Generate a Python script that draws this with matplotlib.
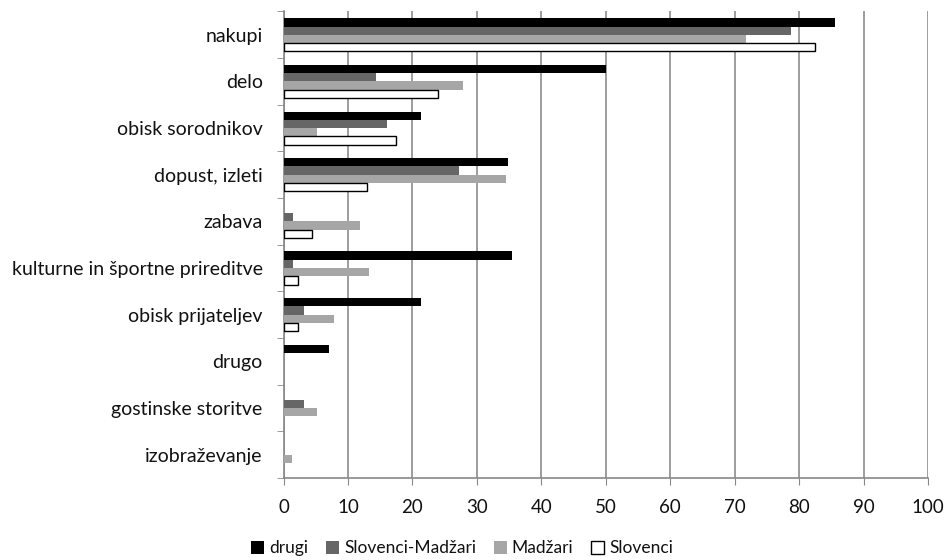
import numpy as np
import matplotlib
matplotlib.use('Agg')
import matplotlib.pyplot as plt

# kategorije (od zgoraj navzdol)
categories = ['nakupi', 'delo', 'obisk sorodnikov', 'dopust, izleti', 'zabava',
              'kulturne in športne prireditve', 'obisk prijateljev', 'drugo',
              'gostinske storitve', 'izobraževanje']

drugi = [85.5, 50.0, 21.4, 34.9, 0.0, 35.5, 21.4, 7.1, 0.0, 0.0]
slovenci_madzari = [78.8, 14.4, 16.0, 27.3, 1.5, 1.5, 3.1, 0.0, 3.1, 0.0]
madzari = [71.8, 27.9, 5.2, 34.5, 11.9, 13.2, 7.9, 0.0, 5.2, 1.3]
slovenci = [82.4, 23.9, 17.4, 13.0, 4.4, 2.2, 2.2, 0.0, 0.0, 0.0]

series = [
    ('drugi', drugi, '#000000', '#000000'),
    ('Slovenci-Madžari', slovenci_madzari, '#666666', '#666666'),
    ('Madžari', madzari, '#a6a6a6', '#a6a6a6'),
    ('Slovenci', slovenci, '#ffffff', '#000000'),
]

plt.rcParams['font.family'] = ['Lato', 'DejaVu Sans']

fig = plt.figure(figsize=(9.47, 5.6), dpi=100)
ax = fig.add_axes([0.2994, 0.1464, 0.6806, 0.8331])

y = np.arange(len(categories))
h = 0.178
for i, (name, vals, fc, ec) in enumerate(series):
    vals = np.array(vals)
    # prazne vrstice (0) brez obrobe
    lw = [1.0 if (fc == '#ffffff' and v > 0) else 0 for v in vals]
    ax.barh(y + (i - 1.5) * h, vals, height=h, color=fc, edgecolor=ec,
            linewidth=lw, label=name, zorder=3)

ax.set_xlim(0, 100)
ax.set_ylim(len(categories) - 0.5, -0.5)
ax.set_xticks(np.arange(0, 101, 10))
ax.set_yticks(y)
ax.set_yticklabels(categories)
ax.set_yticks(np.arange(-0.5, len(categories)), minor=True)
ax.tick_params(axis='y', which='major', length=0, pad=15, labelsize=14, colors='#111111')
ax.tick_params(axis='y', which='minor', length=5, color='#888888', direction='out')
ax.tick_params(axis='x', length=5, color='#888888', direction='out', pad=10,
               labelsize=13.5, labelcolor='#111111')
ax.grid(axis='x', color='#8c8c8c', linewidth=1.2, zorder=0)
for s in ['top', 'right']:
    ax.spines[s].set_visible(False)
ax.spines['left'].set_color('#888888')
ax.spines['bottom'].set_color('#888888')
ax.spines['left'].set_linewidth(1.2)
ax.spines['bottom'].set_linewidth(1.2)

leg = fig.legend(loc='center', bbox_to_anchor=(0.488, 0.021), ncol=4, frameon=False,
                 fontsize=12.5, handlelength=0.75, handleheight=0.75, handletextpad=0.3,
                 columnspacing=1.0)
for t in leg.get_texts():
    t.set_color('#111111')
leg.legend_handles[3].set_linewidth(1.0)

plt.savefig('out.png', dpi=100)
